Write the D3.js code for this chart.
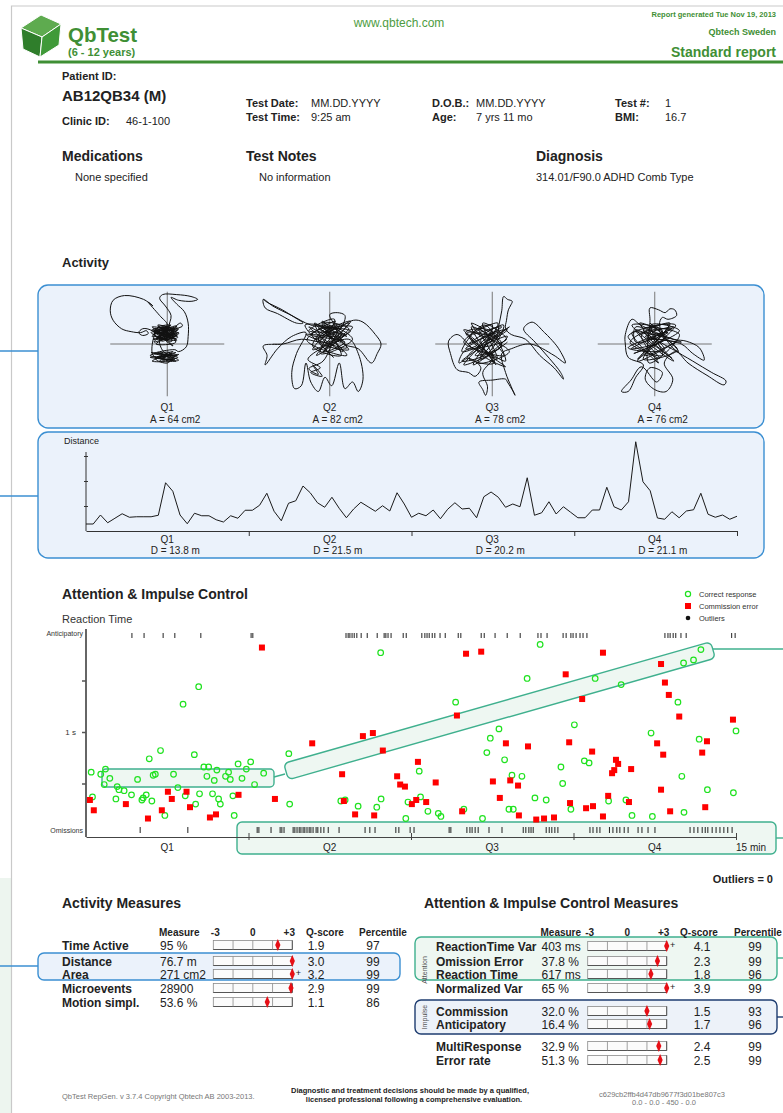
<!DOCTYPE html>
<html>
<head>
<meta charset="utf-8">
<script src="https://cdnjs.cloudflare.com/ajax/libs/d3/7.8.5/d3.min.js"></script>
<style>
  body { margin: 0; background: #fff; }
  svg { display: block; font-family: "Liberation Sans", Arial, Helvetica, sans-serif; }
</style>
</head>
<body>
<svg id="chart"></svg>
<script>
// ---- data ----
const quarters = ['Q1', 'Q2', 'Q3', 'Q4']
const areas = [64, 82, 78, 76]
const distances = [13.8, 21.5, 20.2, 21.1]

// head movement per quarter, mm from centre (x right, y up)
const trackQ1 = [[-5,8],[6,14],[-10,18],[3,20],[-14,12],[10,10],[-8,4],[12,16],[-16,15],[4,6],[-6,19],[9,2],[-12,0],[7,12],[-3,16],[11,7],[-15,5],[2,10],[-9,14],[6,-2],
  [-18,15],[-26,16],[-30,12],[-26,9],[-20,11],[-22,14],[-28,12],[-38,13],[-48,16],[-57,25],[-60,35],[-57,46],[-45,51],[-25,47],[-15,40],[-20,44],
  [-8,30],[0,20],[-10,12],[5,16],[2,18],[4,30],[-2,40],[-8,48],[-5,52],[10,52],[25,50],[32,47],[26,45],[12,46],[4,49],[10,42],[18,34],[22,22],[22,8],[20,-3],[12,-8],
  [8,-6],[-14,-10],[10,-12],[-18,-14],[5,-16],[-10,-9],[12,-17],[-16,-18],[2,-11],[-6,-15],[9,-9],[-12,-16],[0,-20],[6,-13],[-4,-8],
  [-8,6],[8,18],[14,22],[16,19],[12,17],[-4,12],[8,8],[-12,6],[4,14],[-7,17],[10,4],[-13,9],
  [-12,14],[8,16],[-15,10],[10,19],[-6,3],[12,11],[-16,18],[6,6],[-10,20],[9,13],[-14,2],[3,18],[-8,9],[11,15],[-17,12],[5,3],[-4,19],[10,8],[-13,16],[0,4],
  [7,17],[-11,6],[12,12],[-16,8],[4,20],[-7,11],[9,5],[-15,15],[2,8],[-9,18],
  [-15,-12],[8,-16],[-17,-9],[11,-14],[-8,-18],[6,-8],[-13,-15],[12,-11],[-5,-17],[3,-9],[-18,-12],[9,-18],[-10,-14],[5,-12]]
const trackQ2 = [[-70,47],[-66,44],[-50,36],[-37,28],[-28,22],[-35,22],[-55,32],[-68,38],[-70,47],[-60,40],[-40,30],
  [-20,20],[10,15],[-15,5],[20,22],[-5,-5],[15,10],[-22,14],[5,26],[-10,-10],[24,5],[0,18],[-18,-2],[12,-12],[-8,24],[18,-4],[-25,10],[8,8],[-12,16],[22,14],[-3,2],
  [-30,5],[-49,0],[-70,-2],[-66,-12],[-68,-22],[-55,-5],[-40,8],[-25,12],
  [-35,-10],[-40,-30],[-37,-47],[-30,-44],[-25,-20],[-20,-40],[-12,-50],[-5,-35],[2,-44],[10,-20],[16,-47],[24,-40],[30,-50],[35,-37],[30,-10],[20,5],
  [-23,-16],[-10,-25],[-20,-30],[-8,-34],[-18,-22],[-12,-32],[-22,-26],[-7,-18],
  [10,15],[25,25],[35,23],[48,10],[54,0],[50,-10],[44,-20],[30,-5],[15,0],
  [5,20],[0,31],[8,33],[16,30],[12,18],[-5,12],[6,4],[-14,20],[18,8],[-6,22],[12,2],
  [-22,18],[14,-8],[-8,22],[20,16],[-18,-6],[6,24],[-24,4],[18,-12],[-4,14],[24,18],[-14,-12],[10,20],[-20,10],[16,2],[-6,-8],[22,24],[-12,6],[4,-14],[-26,20],[12,12],
  [0,-2],[-16,22],[20,-6],[-10,2],[8,18]]
const trackQ3 = [[-20,10],[10,18],[-28,-5],[15,5],[-10,22],[5,-15],[-30,15],[18,-8],[-15,-20],[8,12],[-25,0],[12,20],[-5,-10],[-32,-18],[16,15],[-12,5],[4,-22],[-22,18],[10,-2],[-18,-12],
  [5,10],[7,20],[10,35],[12,50],[16,47],[21,45],[19,40],[17,36],[15,25],[14,16],
  [20,10],[35,5],[50,-12],[65,-25],[75,-37],[72,-30],[60,-15],[45,2],[33,16],[42,23],[55,12],[61,6],[70,-5],[77,-20],[65,-12],[40,0],[20,-5],
  [10,-10],[14,-30],[20,-45],[24,-54],[22,-50],[16,-40],[14,-37],[0,-38],[-14,-40],[-10,-48],[-7,-54],[-5,-45],[-10,-30],[0,-15],
  [-20,-5],[-37,10],[-46,3],[-44,-10],[-37,-27],[-25,-30],[-18,-34],[-12,-25],[-25,-15],[-35,-20],[-30,-8],[-15,0],[-26,12],[6,8],[-8,16],
  [-28,12],[14,-18],[-8,20],[-32,-8],[16,8],[-20,-22],[6,22],[-30,2],[12,-12],[-14,16],[2,-20],[-26,-14],[18,18],[-6,4],[-22,22],[10,0],[-30,-22],[4,14],[-16,-6],[14,-24],
  [-24,8],[0,20],[-12,-16],[16,2]]
const trackQ4 = [[-15,10],[20,18],[-25,-5],[10,5],[-5,22],[25,-8],[-20,15],[5,-15],[-28,8],[15,20],[-10,-12],[22,2],[-18,-18],[8,14],[-24,20],[18,-15],[0,0],[-12,16],[26,10],[-6,-20],
  [-5,25],[-5,38],[4,36],[11,33],[16,37],[21,36],[23,30],[14,26],[8,28],[5,20],
  [19,-4],[40,-18],[60,-30],[75,-39],[73,-43],[55,-33],[35,-20],[22,-8],
  [10,-20],[19,-37],[12,-50],[0,-48],[-10,-37],[-5,-25],[8,-30],[2,-40],
  [-14,-24],[-25,-38],[-35,-50],[-28,-50],[-20,-35],[-12,-22],
  [-28,-14],[-31,0],[-31,10],[-24,26],[-15,20],
  [20,5],[33,3],[47,-4],[52,-17],[40,-10],[28,0],[-10,8],[14,12],[-20,2],
  [-20,18],[24,-6],[-12,-16],[16,22],[-26,2],[8,-12],[-4,20],[26,14],[-22,-10],[12,8],[-16,22],[20,-18],[-8,4],[28,2],[-24,12],[4,-20],[-14,10],[18,16],[-28,-4],[10,-6],
  [-6,16],[22,20],[-18,-16],[6,10]]
const tracks = [trackQ1, trackQ2, trackQ3, trackQ4]

// distance moved per 10 s interval, 0..15 min
const distanceSeries = [0.28,0.28,0.64,0.33,0.51,0.69,0.55,0.57,0.57,0.57,0.63,1.93,1.59,0.64,0.29,0.71,0.61,0.61,0.45,0.36,
  0.61,0.51,0.83,0.83,1.03,1.51,0.79,0.41,1.11,1.21,1.80,1.53,1.13,0.95,1.35,0.91,0.53,0.88,1.15,0.97,
  0.79,1.01,0.80,1.53,1.08,0.55,0.71,0.61,0.84,0.49,0.87,1.13,0.88,0.91,0.53,1.37,1.56,1.35,0.95,1.08,
  0.97,2.13,0.63,0.73,1.17,0.68,0.97,0.75,0.53,0.53,0.84,0.84,1.75,0.97,0.84,1.17,3.57,1.97,1.61,0.52,
  0.47,0.77,0.53,0.80,0.85,1.51,0.67,0.55,0.64,0.47,0.59]

// [minute, reaction time s]
const correctResponses = [[0.12,0.61],[0.15,0.37],[0.34,0.59],[0.45,0.64],[0.42,0.49],[0.55,0.55],[0.69,0.35],[0.72,0.47],[0.76,0.44],[0.88,0.43],
  [1.05,0.39],[1.19,0.54],[1.29,0.34],[1.32,0.36],[1.39,0.39],[1.46,0.74],[1.52,0.33],[1.55,0.58],[1.60,0.59],[1.72,0.82],
  [1.82,0.19],[2.02,0.59],[2.12,0.46],[2.24,1.27],[2.29,0.38],[2.50,0.78],[2.53,0.30],[2.60,1.44],[2.62,0.40],[2.72,0.66],
  [2.79,0.57],[2.83,0.66],[2.92,0.40],[2.96,0.53],[3.02,0.63],[3.06,0.35],[3.10,0.30],[3.22,0.57],[3.29,0.61],[3.33,0.54],
  [3.39,0.38],[3.42,0.19],[3.51,0.69],[3.60,0.55],[3.70,0.64],[3.80,0.71],[3.89,0.49],[4.10,0.60],[4.68,0.79],[4.70,0.30],
  [5.88,0.33],[5.98,0.34],[6.28,0.28],[6.71,0.27],[6.81,0.35],[6.80,1.77],[7.38,0.16],[7.43,0.32],[7.69,0.62],[7.72,0.37],
  [7.89,0.23],[8.13,0.21],[8.19,0.18],[8.53,1.29],[8.72,0.25],[9.15,0.16],[9.25,0.80],[9.33,0.94],[9.53,1.03],[9.66,0.73],
  [9.76,0.25],[9.83,0.58],[9.86,0.25],[10.06,0.57],[10.18,1.52],[10.36,0.36],[10.48,1.85],[10.62,0.34],[10.96,0.66],[11.00,0.50],
  [11.19,0.25],[11.27,1.07],[11.50,0.72],[11.61,0.70],[11.75,1.52],[12.06,0.33],[12.35,1.46],[12.46,0.34],[12.60,0.19],[13.04,0.99],
  [13.07,0.18],[13.66,1.29],[13.75,0.57],[13.80,0.22],[13.79,1.67],[14.02,1.70],[14.19,1.80],[14.15,0.93],[14.34,0.44],[14.94,0.41],[15.0,1.01]]
const commissionErrors = [[0.09,0.34],[0.18,0.24],[0.92,0.30],[1.43,0.16],[1.75,0.24],[1.89,0.42],[1.98,0.35],[2.32,0.42],[2.40,0.27],[2.86,0.17],
  [3.00,0.20],[3.52,0.39],[4.06,1.82],[4.36,0.35],[5.22,0.89],[5.91,0.59],[5.95,0.33],[6.21,0.20],[6.39,0.96],[6.62,0.99],
  [6.85,0.82],[6.65,0.19],[7.18,0.57],[7.25,0.49],[7.36,0.47],[7.52,0.30],[7.62,0.34],[7.66,0.71],[7.85,0.32],[8.07,0.51],
  [8.56,1.16],[8.68,0.23],[8.77,1.76],[9.12,1.78],[9.39,0.52],[9.55,0.36],[9.69,0.89],[9.79,0.53],[9.97,0.48],[9.99,0.19],
  [10.20,0.86],[10.39,0.15],[10.57,0.16],[10.80,0.17],[11.07,1.56],[11.15,0.90],[11.17,0.31],[11.45,1.32],[11.54,0.26],[11.68,0.81],
  [11.70,0.28],[11.93,1.77],[11.93,0.18],[12.05,0.38],[12.14,0.60],[12.19,0.63],[12.23,0.73],[12.28,0.69],[12.53,0.32],[12.58,0.64],
  [13.18,0.89],[13.27,1.66],[13.27,0.44],[13.32,0.78],[13.36,1.48],[13.45,1.36],[13.48,0.23],[13.69,1.15],[14.22,0.80],[14.29,0.27],[14.33,0.91],[14.93,1.12]]
const anticipatoryTimes = [1.06,1.34,1.78,2.05,2.65,3.81,3.85,6.00,6.05,6.09,6.14,6.19,6.25,6.35,6.49,6.72,6.88,6.92,6.97,7.04,
  7.32,7.39,7.75,7.82,7.87,7.92,7.99,8.05,8.17,8.29,8.59,8.65,9.12,9.19,9.44,9.72,10.02,10.43,10.50,10.64,
  11.01,11.08,11.19,11.24,11.31,11.40,11.47,11.56,13.36,13.43,13.48,13.55,13.61,13.73,13.85,14.9,14.98]
const omissionTimes = [1.25,2.35,3.95,3.99,4.27,4.48,4.52,4.57,4.78,4.82,4.87,4.92,4.96,5.01,5.05,5.10,5.15,5.19,5.24,5.31,5.35,5.42,5.49,5.59,
  5.84,6.44,6.55,6.67,7.15,7.22,7.48,7.57,8.38,8.42,8.79,8.86,8.91,8.98,9.05,9.30,9.60,10.09,10.15,10.22,10.27,10.32,
  10.62,10.69,10.75,10.82,10.89,11.63,11.70,11.79,11.86,12.08,12.16,12.25,12.32,12.42,12.51,12.74,12.83,12.97,13.13,
  13.94,14.03,14.12,14.22,14.29,14.35,14.45,14.54,14.63,14.72,14.81,14.91]

const activityLabels = ['Time Active', 'Distance', 'Area', 'Microevents', 'Motion simpl.']
const activityValues = ['95 %', '76.7 m', '271 cm2', '28900', '53.6 %']
const activityQ = [1.9, 3.0, 3.2, 2.9, 1.1]
const activityPct = [97, 99, 99, 99, 86]

const attentionLabels = ['ReactionTime Var', 'Omission Error', 'Reaction Time', 'Normalized Var', 'Commission', 'Anticipatory', 'MultiResponse', 'Error rate']
const attentionValues = ['403 ms', '37.8 %', '617 ms', '65 %', '32.0 %', '16.4 %', '32.9 %', '51.3 %']
const attentionQ = [4.1, 2.3, 1.8, 3.9, 1.5, 1.7, 2.4, 2.5]
const attentionPct = [99, 99, 96, 99, 93, 96, 99, 99]

// ---- drawing ----
const W = 783, H = 1113
const green = '#3f8f35'
const blue = '#3b8fd2', blueFill = '#ebf2fb'
const teal = '#3fb08e', tealFill = '#eef7f2'
const navy = '#1e3c70', navyFill = '#edf2f9'

const svg = d3.select('#chart').attr('width', W).attr('height', H)
svg.append('rect').attr('width', W).attr('height', H).attr('fill', '#fff')

const text = (t, x, y, size, opts = {}) => svg.append('text')
  .text(t).attr('x', x).attr('y', y)
  .attr('font-size', size)
  .attr('font-weight', opts.bold ? 'bold' : null)
  .attr('fill', opts.fill || '#222')
  .attr('text-anchor', opts.anchor || 'start')

// page frame + side tab
svg.append('rect').attr('x', 0).attr('y', 878).attr('width', 11).attr('height', H - 878).attr('fill', '#edf5ef')
svg.append('path').attr('d', `M${W},6 H11.5 V${H}`).attr('fill', 'none').attr('stroke', '#c9c9c9').attr('stroke-width', 1.2)

// header
const logo = svg.append('g')
logo.append('path').attr('d', 'M21,28 L41,15 L61,24 L42,37 Z').attr('fill', '#5eab4f')
logo.append('path').attr('d', 'M21,28 L42,37 L40,57 L23,49 Z').attr('fill', '#2f7e2b')
logo.append('path').attr('d', 'M42,37 L61,24 L59,45 L40,57 Z').attr('fill', '#409a39')
logo.selectAll('path').attr('stroke', '#fff').attr('stroke-width', 1)
text('QbTest', 68, 42, 20.5, { bold: true, fill: green })
text('(6 - 12 years)', 68, 56, 11, { bold: true, fill: green })
text('www.qbtech.com', 399, 27, 12, { fill: '#4e9c42', anchor: 'middle' })
text('Report generated Tue Nov 19, 2013', 776, 17, 7.5, { bold: true, fill: green, anchor: 'end' })
text('Qbtech Sweden', 776, 35, 9, { bold: true, fill: green, anchor: 'end' })
text('Standard report', 776, 57, 14, { bold: true, fill: green, anchor: 'end' })
svg.append('line').attr('x1', 38).attr('x2', W).attr('y1', 62).attr('y2', 62).attr('stroke', green).attr('stroke-width', 3)

// patient info
text('Patient ID:', 62, 80, 11, { bold: true })
text('AB12QB34 (M)', 62, 101, 15, { bold: true })
text('Clinic ID:', 62, 125, 11, { bold: true }); text('46-1-100', 126, 125, 11)
text('Test Date:', 246, 107, 11, { bold: true }); text('MM.DD.YYYY', 311, 107, 11)
text('Test Time:', 246, 121, 11, { bold: true }); text('9:25 am', 311, 121, 11)
text('D.O.B.:', 432, 107, 11, { bold: true }); text('MM.DD.YYYY', 476, 107, 11)
text('Age:', 432, 121, 11, { bold: true }); text('7 yrs 11 mo', 476, 121, 11)
text('Test #:', 615, 107, 11, { bold: true }); text('1', 665, 107, 11)
text('BMI:', 615, 121, 11, { bold: true }); text('16.7', 665, 121, 11)
text('Medications', 62, 161, 14, { bold: true }); text('None specified', 75, 181, 11)
text('Test Notes', 246, 161, 14, { bold: true }); text('No information', 259, 181, 11)
text('Diagnosis', 536, 161, 14, { bold: true }); text('314.01/F90.0 ADHD Comb Type', 536, 181, 11)

// ---- activity ----
text('Activity', 62, 267, 13, { bold: true })
const panel = (x0, y0, x1, y1, stroke, fill, r = 10) => svg.append('rect')
  .attr('x', x0).attr('y', y0).attr('width', x1 - x0).attr('height', y1 - y0)
  .attr('rx', r).attr('fill', fill).attr('stroke', stroke).attr('stroke-width', 1.4)
const hline = (x0, x1, y, stroke) => svg.append('line')
  .attr('x1', x0).attr('x2', x1).attr('y1', y).attr('y2', y).attr('stroke', stroke).attr('stroke-width', 1.4)

panel(38, 285, 764, 428, blue, blueFill)
hline(0, 38, 351, blue)
panel(38, 432, 764, 558, blue, blueFill)
hline(0, 38, 496, blue)

const xTime = d3.scaleLinear().domain([0, 15]).range([86, 736])
const quarterMid = i => xTime(3.75 * i + 1.875)

tracks.forEach((track, i) => {
  const cx = quarterMid(i), cy = 344
  const tx = d3.scaleLinear().domain([-60, 60]).range([cx - 57, cx + 57])
  const ty = d3.scaleLinear().domain([-60, 60]).range([cy + 57, cy - 57])
  const g = svg.append('g')
  g.append('line').attr('x1', tx(-60)).attr('x2', tx(60)).attr('y1', ty(0)).attr('y2', ty(0)).attr('stroke', '#777').attr('stroke-width', 1)
  g.append('line').attr('x1', tx(0)).attr('x2', tx(0)).attr('y1', ty(55)).attr('y2', ty(-55)).attr('stroke', '#777').attr('stroke-width', 1)
  g.append('path')
    .attr('d', d3.line().x(d => tx(d[0])).y(d => ty(d[1])).curve(d3.curveCatmullRom.alpha(0.5))(track))
    .attr('fill', 'none').attr('stroke', '#111').attr('stroke-width', 1)
  text(quarters[i], cx, 411, 10, { anchor: 'middle' })
  text(`A = ${areas[i]} cm2`, cx + 8, 423, 10, { anchor: 'middle' })
})

// distance
text('Distance', 64, 444, 9)
const xDist = d3.scaleLinear().domain([0, 15]).range([86, 737])
const yDist = d3.scaleLinear().domain([0, 3]).range([531, 456])
svg.append('line').attr('x1', 86).attr('x2', 86).attr('y1', 452).attr('y2', yDist(0)).attr('stroke', '#333')
svg.append('g').attr('transform', 'translate(86,0)')
  .call(d3.axisLeft(yDist).tickValues([1, 2, 3]).tickSize(2).tickFormat(''))
  .call(g => g.select('.domain').remove())
  .call(g => g.selectAll('.tick line').attr('x2', 2).attr('x1', -2).attr('stroke', '#333'))
svg.append('g').attr('transform', `translate(0,${yDist(0)})`)
  .call(d3.axisBottom(xDist).tickValues([3.75, 7.5, 11.25, 15]).tickSize(5).tickSizeOuter(0).tickFormat(''))
  .call(g => g.selectAll('.domain, .tick line').attr('stroke', '#333'))
svg.append('path')
  .attr('d', d3.line().x((d, i) => xDist(i * 15 / (distanceSeries.length - 1))).y(d => yDist(d))(distanceSeries))
  .attr('fill', 'none').attr('stroke', '#1a1a1a').attr('stroke-width', 1)
quarters.forEach((q, i) => {
  text(q, quarterMid(i), 543, 10, { anchor: 'middle' })
  text(`D = ${distances[i]} m`, quarterMid(i) + 8, 554, 10, { anchor: 'middle' })
})

// ---- attention & impulse control ----
text('Attention & Impulse Control', 62, 599, 14, { bold: true })
text('Reaction Time', 62, 623, 11, { fill: '#333' })

const yRT = d3.scaleLinear().domain([0, 1.5]).range([835, 680.5])

// highlight boxes (behind marks)
panel(237, 822, 776, 854, teal, tealFill, 5)
hline(776, W, 838, teal)
panel(102, 769, 274, 787, teal, tealFill, 4)
svg.append('line').attr('x1', 274).attr('y1', 777).attr('x2', 285).attr('y2', 774).attr('stroke', teal).attr('stroke-width', 1.4)
const bandLen = Math.hypot(713 - 286, 650 - 771.5)
const bandAng = Math.atan2(650 - 771.5, 713 - 286) * 180 / Math.PI
svg.append('rect').attr('x', 0).attr('y', -8.5).attr('width', bandLen).attr('height', 17).attr('rx', 5)
  .attr('fill', tealFill).attr('stroke', teal).attr('stroke-width', 1.4)
  .attr('transform', `translate(286,771.5) rotate(${bandAng})`)
hline(713, W, 649, teal)

// axes
svg.append('line').attr('x1', 86).attr('x2', 86).attr('y1', 629).attr('y2', 837).attr('stroke', '#666').attr('stroke-width', 2)
svg.append('g').attr('transform', 'translate(86,0)')
  .call(d3.axisLeft(yRT).tickValues([0.5, 1, 1.5]).tickSize(4).tickPadding(6).tickFormat(d => d === 1 ? '1 s' : ''))
  .call(g => g.select('.domain').remove())
  .call(g => g.selectAll('.tick line').attr('stroke', '#555').attr('stroke-width', 1.5))
  .call(g => g.selectAll('.tick text').attr('font-size', 8).attr('fill', '#333').attr('font-family', null))
svg.append('g').attr('transform', 'translate(0,837)')
  .call(d3.axisBottom(xTime).tickValues([3.75, 7.5, 11.25, 15]).tickSize(3).tickSizeOuter(0).tickFormat(''))
  .call(g => g.selectAll('.domain').attr('stroke', '#444'))
  .call(g => g.selectAll('.tick line').attr('y1', -4).attr('stroke', '#444'))
text('Anticipatory', 83, 636, 7, { anchor: 'end', fill: '#333' })
text('Omissions', 83, 833, 7, { anchor: 'end', fill: '#333' })
quarters.forEach((q, i) => text(q, quarterMid(i), 851, 10, { anchor: 'middle' }))
text('15 min', xTime(15) + 15, 851, 10, { anchor: 'middle' })

svg.append('g').selectAll('line').data(anticipatoryTimes).join('line')
  .attr('x1', d => xTime(d)).attr('x2', d => xTime(d)).attr('y1', 633).attr('y2', 638)
  .attr('stroke', '#222').attr('stroke-width', 1)
svg.append('g').selectAll('line').data(omissionTimes).join('line')
  .attr('x1', d => xTime(d)).attr('x2', d => xTime(d)).attr('y1', 827).attr('y2', 833)
  .attr('stroke', '#222').attr('stroke-width', 1)

svg.append('g').selectAll('circle').data(correctResponses).join('circle')
  .attr('cx', d => xTime(d[0])).attr('cy', d => yRT(d[1])).attr('r', 2.8)
  .attr('fill', 'none').attr('stroke', '#1fe21f').attr('stroke-width', 1.2)
svg.append('g').selectAll('rect').data(commissionErrors).join('rect')
  .attr('x', d => xTime(d[0]) - 3).attr('y', d => yRT(d[1]) - 3).attr('width', 6).attr('height', 6)
  .attr('fill', '#f00')

// legend
svg.append('circle').attr('cx', 688).attr('cy', 594).attr('r', 2.6).attr('fill', 'none').attr('stroke', '#1fe21f').attr('stroke-width', 1.2)
svg.append('rect').attr('x', 685).attr('y', 603).attr('width', 6).attr('height', 6).attr('fill', '#f00')
svg.append('circle').attr('cx', 688).attr('cy', 618).attr('r', 2.3).attr('fill', '#111')
text('Correct response', 699, 597, 7.5, { fill: '#333' })
text('Commission error', 699, 609, 7.5, { fill: '#333' })
text('Outliers', 699, 621, 7.5, { fill: '#333' })

text('Outliers = 0', 773, 883, 11, { bold: true, anchor: 'end' })

// ---- measures tables ----
text('Activity Measures', 62, 908, 14, { bold: true })
text('Attention & Impulse Control Measures', 424, 908, 14, { bold: true })

panel(38, 953, 400, 980, blue, blueFill, 6)
hline(0, 38, 966, blue)
panel(415, 937, 777, 980, teal, tealFill, 6)
hline(777, W, 958, teal)
panel(415, 1000, 777, 1034, navy, navyFill, 6)
hline(777, W, 1017, navy)
svg.append('text').text('Attention').attr('transform', 'translate(427,970) rotate(-90)')
  .attr('text-anchor', 'middle').attr('font-size', 7).attr('fill', '#555')
svg.append('text').text('Impulse').attr('transform', 'translate(427,1017) rotate(-90)')
  .attr('text-anchor', 'middle').attr('font-size', 7).attr('fill', '#555')

const drawTable = (cfg) => {
  const qx = d3.scaleLinear().domain([-3, 3]).range(cfg.bar)
  const hy = 936
  text('Measure', cfg.valueX - 1, hy, 10, { bold: true })
  text('-3', qx(-3) + 2, hy, 10, { bold: true, anchor: 'middle' })
  text('0', qx(0), hy, 10, { bold: true, anchor: 'middle' })
  text('+3', qx(3) - 3, hy, 10, { bold: true, anchor: 'middle' })
  text('Q-score', cfg.qHead, hy, 10, { bold: true, anchor: 'middle' })
  text('Percentile', cfg.pHead, hy, 10, { bold: true, anchor: 'middle' })
  cfg.labels.forEach((lab, i) => {
    const cy = cfg.rows[i]
    text(lab, cfg.labelX, cy + 4.5, 12, { bold: true })
    text(cfg.values[i], cfg.valueX, cy + 4.5, 12)
    svg.append('rect').attr('x', qx(-3)).attr('y', cy - 4.5).attr('width', qx(3) - qx(-3)).attr('height', 9)
      .attr('fill', '#fbfbfb').attr('stroke', '#8a8a8a').attr('stroke-width', 0.8)
    svg.append('path').attr('d', `M${qx(-3)},${cy + 4.5} H${qx(3)} V${cy - 4.5}`)
      .attr('fill', 'none').attr('stroke', '#555').attr('stroke-width', 1)
    ;[-1.5, 0, 1.5].forEach(v => svg.append('line').attr('x1', qx(v)).attr('x2', qx(v))
      .attr('y1', cy - 4.5).attr('y2', cy + 4.5).attr('stroke', '#8a8a8a').attr('stroke-width', 0.8))
    const q = cfg.q[i], dx = qx(Math.min(q, 3))
    svg.append('path').attr('d', `M${dx},${cy - 6} L${dx + 2.6},${cy} L${dx},${cy + 6} L${dx - 2.6},${cy} Z`).attr('fill', '#e60f16')
    if (q > 3) text('+', dx + 6, cy + 2, 9, { anchor: 'middle' })
    text(q.toFixed(1), cfg.qX, cy + 4.5, 12, { anchor: 'middle' })
    text(cfg.pct[i], cfg.pX, cy + 4.5, 12, { anchor: 'middle' })
  })
}

drawTable({
  labels: activityLabels, values: activityValues, q: activityQ, pct: activityPct,
  rows: [945, 961, 974, 988, 1002],
  labelX: 62, valueX: 160, bar: [213.3, 292.3], qHead: 325, pHead: 383, qX: 316, pX: 373
})
drawTable({
  labels: attentionLabels, values: attentionValues, q: attentionQ, pct: attentionPct,
  rows: [946, 961, 974, 988, 1011, 1024, 1046, 1060],
  labelX: 436, valueX: 541.5, bar: [587.7, 666.7], qHead: 699, pHead: 758, qX: 702, pX: 755
})

// footer
text('QbTest RepGen. v 3.7.4 Copyright Qbtech AB 2003-2013.', 62, 1099, 7.5, { fill: '#777' })
text('Diagnostic and treatment decisions should be made by a qualified,', 410, 1093, 7.5, { bold: true, anchor: 'middle' })
text('licensed professional following a comprehensive evaluation.', 414, 1102, 7.5, { bold: true, anchor: 'middle' })
text('c629cb2ffb4d47db9677f3d01be807c3', 662, 1097, 7.5, { fill: '#777', anchor: 'middle' })
text('0.0 - 0.0 - 450 - 0.0', 664, 1105, 7.5, { fill: '#777', anchor: 'middle' })
</script>
</body>
</html>
